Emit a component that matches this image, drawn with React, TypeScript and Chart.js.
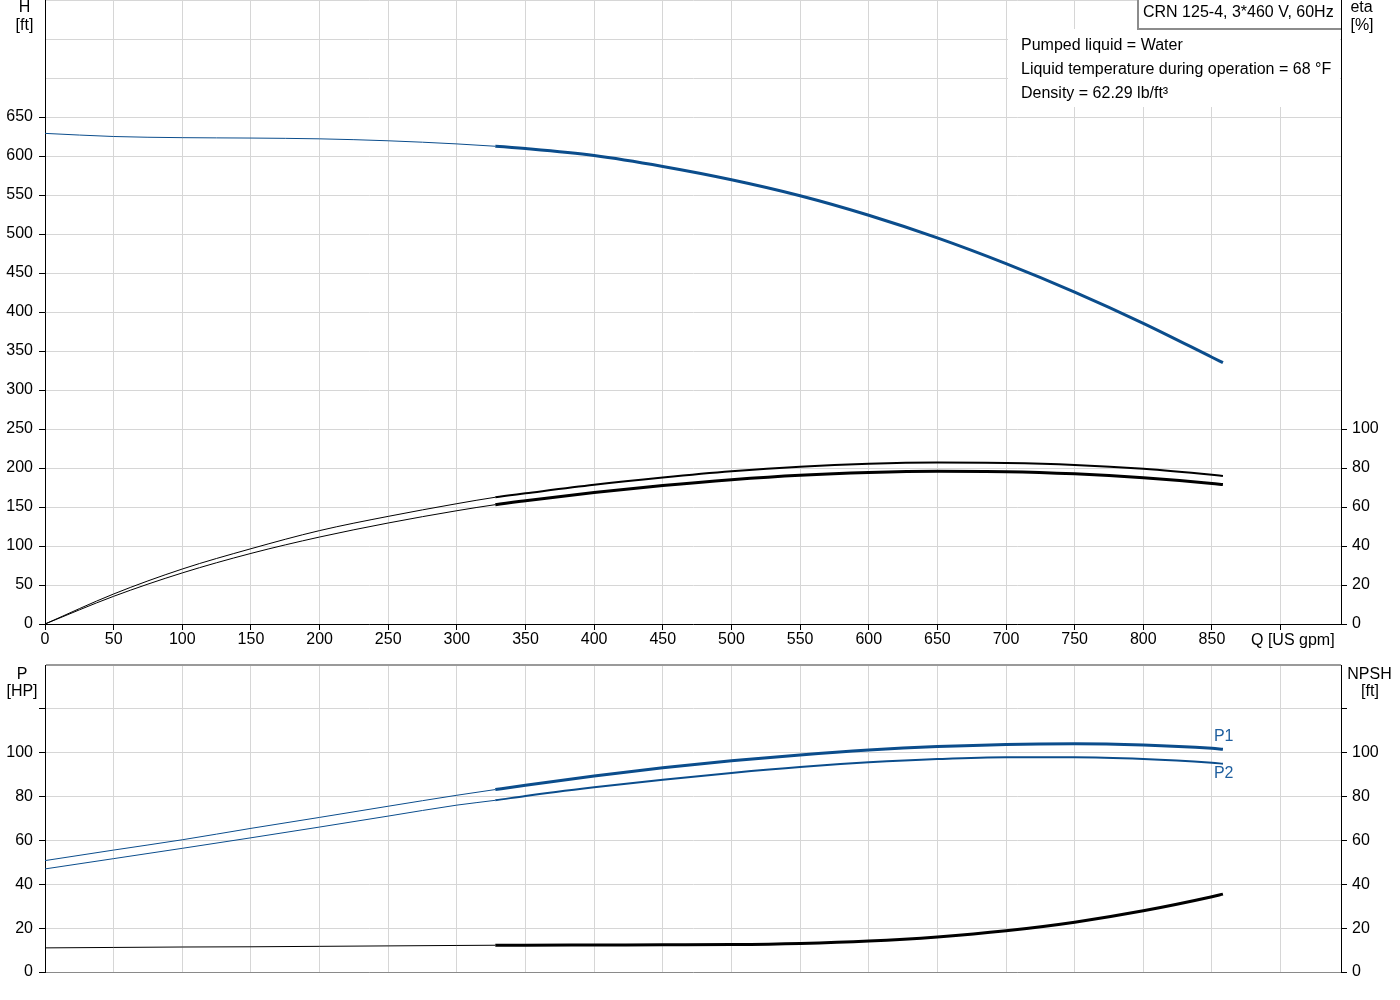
import React, { useEffect, useRef } from 'react';
import { Chart, registerables } from 'chart.js';

Chart.register(...registerables);

// ---------- data ----------
const flow = [0, 50, 100, 150, 200, 250, 300, 328, 350, 400, 450, 500, 550, 600, 650, 700, 750, 800, 850, 858];
const head = [629, 625, 623.5, 623, 622, 619.5, 615.5, 612.5, 609.5, 600.5, 586.5, 569.5, 549, 524, 495, 462, 425.5, 385.5, 342, 335];
const etaUpper = [0, 15.4, 28.2, 38.6, 47.9, 55.2, 61.7, 65.0, 67.0, 71.4, 75.1, 78.3, 80.7, 82.2, 82.8, 82.6, 81.6, 79.6, 76.5, 75.9];
const etaLower = [0, 14.2, 26.2, 36.2, 44.6, 51.8, 58.1, 61.2, 63.2, 67.4, 71.0, 74.0, 76.3, 77.7, 78.3, 78.1, 77.0, 75.0, 72.1, 71.5];
const powerP1 = [50.8, 55.6, 60.3, 65.5, 70.5, 75.6, 80.6, 83.2, 85.2, 89.4, 93.1, 96.3, 99.0, 101.2, 102.8, 103.8, 104.1, 103.5, 102.0, 101.6];
const powerP2 = [47.0, 51.7, 56.4, 61.2, 66.1, 71.1, 76.1, 78.3, 80.3, 84.2, 87.7, 90.8, 93.5, 95.6, 97.1, 97.9, 97.9, 97.1, 95.4, 95.0];
const npsh = [11.0, 11.2, 11.4, 11.5, 11.7, 11.9, 12.1, 12.2, 12.2, 12.3, 12.4, 12.5, 13.0, 14.1, 16.0, 18.8, 22.7, 27.9, 34.3, 35.5];

const dutyStart = 328;

const qTicks = [0, 50, 100, 150, 200, 250, 300, 350, 400, 450, 500, 550, 600, 650, 700, 750, 800, 850, 900];
const hTicks = [0, 50, 100, 150, 200, 250, 300, 350, 400, 450, 500, 550, 600, 650, 700, 750, 800];
const etaTicks = [0, 20, 40, 60, 80, 100];
const pTicks = [0, 20, 40, 60, 80, 100, 120, 140];
const npshTicks = [0, 20, 40, 60, 80, 100, 120];

const titleText = 'CRN 125-4, 3*460 V, 60Hz';
const infoLines = ['Pumped liquid = Water', 'Liquid temperature during operation = 68 °F', 'Density = 62.29 lb/ft³'];
const qAxisTitle = 'Q [US gpm]';

// ---------- styles ----------
const FONT = "'Liberation Sans', Arial, sans-serif";
const BLUE = '#0b4d8c';
const LABEL_BLUE = '#1f5f9f';
const GRID = '#d6d6d6';
const TXT = '#000';

const pts = (vals: number[]) => flow.map((q, i) => ({ x: q, y: vals[i] }));
const seg = (thin: number, thick: number) => ({
  borderWidth: (c: any) => (c.p0.parsed.x >= dutyStart - 0.01 ? thick : thin),
});

const line = (vals: number[], color: string, thick: number, yAxisID: string) => ({
  data: pts(vals),
  borderColor: color,
  borderWidth: 1,
  pointRadius: 0,
  fill: false,
  cubicInterpolationMode: 'monotone' as const,
  yAxisID,
  segment: seg(1, thick),
});

const tickFont = { family: FONT, size: 16 };

function xScale(showLabels: boolean, height: number, borderColor: string) {
  return {
    type: 'linear',
    position: 'bottom',
    min: 0,
    max: 944,
    afterBuildTicks: (s: any) => {
      s.ticks = qTicks.map((v) => ({ value: v }));
    },
    afterFit: (s: any) => {
      s.height = height;
      s.paddingLeft = 0;
      s.paddingRight = 0;
    },
    ticks: {
      display: showLabels,
      autoSkip: false,
      maxRotation: 0,
      padding: 0,
      font: tickFont,
      color: TXT,
      callback: (v: any) => (v === 900 ? '' : String(v)),
    },
    grid: {
      color: GRID,
      lineWidth: 1,
      drawTicks: showLabels,
      tickLength: 6,
      tickColor: TXT,
    },
    border: { color: borderColor, width: 1 },
  };
}

function yScale(opts: {
  position: 'left' | 'right';
  max: number;
  ticks: number[];
  labelMax: number;
  tickMax: number;
  width: number;
  padding: number;
  onArea: boolean;
  topBorder?: boolean;
}) {
  return {
    type: 'linear',
    position: opts.position,
    min: 0,
    max: opts.max,
    afterBuildTicks: (s: any) => {
      s.ticks = opts.ticks.map((v) => ({ value: v }));
    },
    afterFit: (s: any) => {
      s.width = opts.width;
      s.paddingTop = 0;
      s.paddingBottom = 0;
    },
    ticks: {
      autoSkip: false,
      padding: opts.padding,
      font: tickFont,
      color: TXT,
      callback: (v: any) => (v <= opts.labelMax ? String(v) : ''),
    },
    grid: {
      drawOnChartArea: opts.onArea,
      color: (c: any) => (opts.topBorder && c.tick && c.tick.value === opts.max ? '#9a9a9a' : GRID),
      lineWidth: (c: any) => (opts.topBorder && c.tick && c.tick.value === opts.max ? 2 : 1),
      tickLength: 6,
      tickColor: (c: any) => (c.tick && c.tick.value <= opts.tickMax ? TXT : 'rgba(0,0,0,0)'),
    },
    border: { color: TXT, width: 1 },
  };
}

const topTextPlugin = {
  id: 'topText',
  afterDraw(chart: any) {
    const ctx = chart.ctx;
    ctx.save();
    ctx.font = `16px ${FONT}`;
    ctx.fillStyle = TXT;
    ctx.textBaseline = 'alphabetic';
    ctx.textAlign = 'center';
    ctx.fillText('H', 24.5, 12);
    ctx.fillText('[ft]', 24.5, 30);
    ctx.fillText('eta', 1361.5, 12);
    ctx.fillText('[%]', 1362, 30);
    ctx.textAlign = 'left';
    ctx.fillText(qAxisTitle, 1251, 645);

    // info block
    ctx.fillStyle = '#fff';
    ctx.fillRect(1008, 29, 332, 78);
    ctx.fillStyle = TXT;
    infoLines.forEach((t, i) => ctx.fillText(t, 1021, 50 + 24 * i));

    // title box
    ctx.fillStyle = '#fff';
    ctx.fillRect(1137, 0, 204, 29);
    ctx.strokeStyle = '#8c8c8c';
    ctx.lineWidth = 2;
    ctx.beginPath();
    ctx.moveTo(1138, 0);
    ctx.lineTo(1138, 29);
    ctx.lineTo(1341, 29);
    ctx.stroke();
    ctx.fillStyle = TXT;
    ctx.fillText(titleText, 1143, 17);
    ctx.restore();
  },
};

const bottomTextPlugin = {
  id: 'bottomText',
  afterDraw(chart: any) {
    const ctx = chart.ctx;
    const xs = chart.scales.x;
    const ys = chart.scales.y;
    ctx.save();
    ctx.font = `16px ${FONT}`;
    ctx.fillStyle = TXT;
    ctx.textBaseline = 'alphabetic';
    ctx.textAlign = 'center';
    ctx.fillText('P', 22, 23.5);
    ctx.fillText('[HP]', 22, 41);
    ctx.fillText('NPSH', 1369.5, 23.5);
    ctx.fillText('[ft]', 1370, 41);
    ctx.textAlign = 'left';
    ctx.fillStyle = LABEL_BLUE;
    const lx = xs.getPixelForValue(850) + 2;
    ctx.fillText('P1', lx, ys.getPixelForValue(powerP1[powerP1.length - 1]) - 8);
    ctx.fillText('P2', lx, ys.getPixelForValue(powerP2[powerP2.length - 1]) + 14);
    ctx.restore();
  },
};

const TOP_H = 655;
const BOT_H = 345;

export default function App() {
  const topRef = useRef<HTMLCanvasElement>(null);
  const botRef = useRef<HTMLCanvasElement>(null);

  useEffect(() => {
    const common = {
      animation: false,
      responsive: false,
      devicePixelRatio: 1,
      events: [],
      plugins: { legend: { display: false }, tooltip: { enabled: false } },
    };

    const top = new Chart(topRef.current as HTMLCanvasElement, {
      type: 'line',
      data: {
        datasets: [
          line(head, BLUE, 3, 'y') as any,
          line(etaUpper, '#000', 2, 'yEta') as any,
          line(etaLower, '#000', 3, 'yEta') as any,
        ],
      },
      options: {
        ...common,
        layout: { padding: 0 },
        scales: {
          x: xScale(true, TOP_H - 624, TXT),
          y: yScale({ position: 'left', max: 800, ticks: hTicks, labelMax: 650, tickMax: 650, width: 45, padding: 6, onArea: true }),
          yEta: yScale({ position: 'right', max: 320, ticks: etaTicks, labelMax: 100, tickMax: 100, width: 59, padding: 5, onArea: false }),
        },
      } as any,
      plugins: [topTextPlugin],
    });

    const bottom = new Chart(botRef.current as HTMLCanvasElement, {
      type: 'line',
      data: {
        datasets: [
          line(powerP1, BLUE, 3, 'y') as any,
          line(powerP2, BLUE, 2, 'y') as any,
          line(npsh, '#000', 3, 'yNpsh') as any,
        ],
      },
      options: {
        ...common,
        layout: { padding: { top: 10, left: 0, right: 0, bottom: 0 } },
        scales: {
          x: xScale(false, BOT_H - 317, '#8a8a8a'),
          y: yScale({ position: 'left', max: 140, ticks: pTicks, labelMax: 100, tickMax: 120, width: 45, padding: 6, onArea: true, topBorder: true }),
          yNpsh: yScale({ position: 'right', max: 140, ticks: npshTicks, labelMax: 100, tickMax: 120, width: 59, padding: 5, onArea: false }),
        },
      } as any,
      plugins: [bottomTextPlugin],
    });

    return () => {
      top.destroy();
      bottom.destroy();
    };
  }, []);

  return (
    <div style={{ position: 'absolute', left: 0, top: 0, width: 1400, height: 1000, background: '#fff' }}>
      <canvas ref={topRef} width={1400} height={TOP_H} style={{ position: 'absolute', left: 0, top: 0, display: 'block' }} />
      <canvas ref={botRef} width={1400} height={BOT_H} style={{ position: 'absolute', left: 0, top: TOP_H, display: 'block' }} />
    </div>
  );
}
